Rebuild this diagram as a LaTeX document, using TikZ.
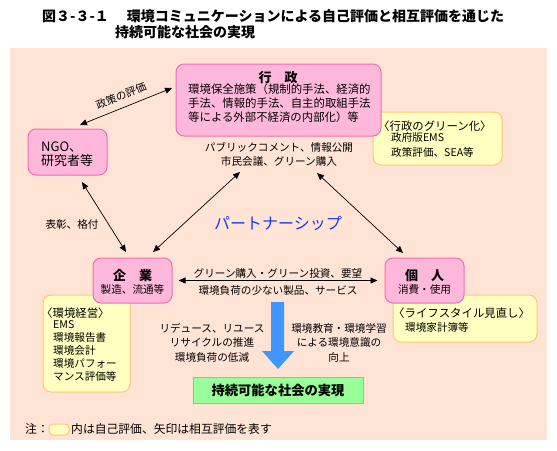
\documentclass[tikz,border=0pt]{standalone}
\usepackage{fontspec}
\setmainfont{Noto Sans CJK JP}
\usetikzlibrary{arrows.meta}
\definecolor{bgc}{RGB}{255,228,214}
\definecolor{pinkfill}{RGB}{255,184,220}
\definecolor{pinkline}{RGB}{240,110,175}
\definecolor{yelfill}{RGB}{255,255,194}
\definecolor{yelline}{RGB}{255,198,112}
\definecolor{grnfill}{RGB}{153,255,153}
\definecolor{grnline}{RGB}{105,225,85}
\definecolor{bluearr}{RGB}{64,150,255}
\definecolor{bluetxt}{RGB}{20,60,235}
\newcommand{\fs}[2]{\fontsize{#1}{#2}\selectfont}
\begin{document}
\begin{tikzpicture}[x=1pt,y=-1pt,
  pinkbox/.style={draw=pinkline,fill=pinkfill,line width=1pt,rounded corners=8pt,inner sep=0pt},
  yelbox/.style={draw=yelline,fill=yelfill,line width=1pt,rounded corners=8pt,inner sep=0pt},
  grnbox/.style={draw=grnline,fill=grnfill,line width=1pt,inner sep=0pt},
  txt/.style={inner sep=0pt,font=\fs{10.6}{14.5}},
  body/.style={inner sep=0pt,font=\fs{11.4}{14},align=left},
  head/.style={inner sep=0pt,font=\fs{13}{14}\bfseries},
  conn/.style={{Triangle[length=7pt,width=6pt]}-{Triangle[length=7pt,width=6pt]},line width=0.7pt}]
\useasboundingbox (0,0) rectangle (557,450);
\fill[bgc] (10,48) rectangle (547,440);
% title
\node[inner sep=0pt,anchor=west,font=\fs{14}{16}\bfseries] (t1) at (42,16) {図３-３-１\hspace{18pt}環境コミュニケーションによる自己評価と相互評価を通じた};
\node[inner sep=0pt,anchor=west,font=\fs{14}{16}\bfseries] (t2) at (115,32) {持続可能な社会の実現};
% yellow boxes
\node[yelbox,minimum width=129pt,minimum height=53pt] (ygov) at (437.5,138.5) {};
\node[yelbox,minimum width=87pt,minimum height=97pt] (ycorp) at (86.5,343.5) {};
\node[yelbox,minimum width=144pt,minimum height=47pt] (yind) at (465,318.5) {};
% pink boxes
\node[pinkbox,minimum width=205pt,minimum height=72pt] (gov) at (278.5,100) {};
\node[pinkbox,minimum width=79pt,minimum height=46pt] (ngo) at (67.5,152) {};
\node[pinkbox,minimum width=79pt,minimum height=45pt] (corp) at (132.5,280.5) {};
\node[pinkbox,minimum width=79pt,minimum height=45pt] (ind) at (424.5,280.5) {};
% green box
\node[grnbox,minimum width=170pt,minimum height=26pt,font=\fs{13.3}{15}\bfseries] (goal) at (278,390) {持続可能な社会の実現};
% texts in boxes
\node[head] (govh) at (278,78) {行\hspace{13pt}政};
\node[body,anchor=north west] (govb) at (188,84) {環境保全施策（規制的手法、経済的\\手法、情報的手法、自主的取組手法\\等による外部不経済の内部化）等};
\node[inner sep=0pt,anchor=west,font=\fs{13}{14.5},align=left] (ngot) at (41,154) {NGO、\\研究者等};
\node[head] (corph) at (132.5,276) {企\hspace{13pt}業};
\node[txt] (corpb) at (132.5,289.5) {製造、流通等};
\node[head] (indh) at (424.5,276) {個\hspace{13pt}人};
\node[txt] (indb) at (424.5,289.5) {消費・使用};
\node[body,anchor=west] (ygt) at (378,126) {〈行政のグリーン化〉};
\node[txt,anchor=north west,align=left] (ygb) at (391,132.5) {政府版EMS\\政策評価、SEA等};
\node[body,anchor=west] (yct) at (41,313) {〈環境経営〉};
\node[txt,anchor=north west,align=left,font=\fs{10.6}{13}] (ycb) at (53,320.5) {EMS\\環境報告書\\環境会計\\環境パフォー\\マンス評価等};
\node[body,anchor=west] (yit) at (393,313) {〈ライフスタイル見直し〉};
\node[txt,anchor=west] (yib) at (405,327) {環境家計簿等};
% labels
\node[txt,align=center] (pub) at (279,154.5) {パブリックコメント、情報公開\\市民会議、グリーン購入};
\node[txt] (hyo) at (72,224) {表彰、格付};
\node[txt,rotate=22] (sei) at (121,96) {政策の評価};
\node[inner sep=0pt,font=\fs{16}{18},text=bluetxt] (pt) at (278,223) {パートナーシップ};
\node[txt] (g1) at (278,273) {グリーン購入・グリーン投資、要望};
\node[txt] (g2) at (278,290) {環境負荷の少ない製品、サービス};
\node[txt,align=center] (red) at (212,342.5) {リデュース、リユース\\リサイクルの推進\\環境負荷の低減};
\node[txt,align=center] (edu) at (339,342.5) {環境教育・環境学習\\による環境意識の\\向上};
% big blue arrow
\fill[bluearr] (271,302) -- (284,302) -- (284,351) -- (294,351) -- (278,369) -- (262,351) -- (271,351) -- cycle;
% connectors
\coordinate (a1s) at (82,182); \coordinate (a1e) at (126,252);
\coordinate (a2s) at (240,172); \coordinate (a2e) at (153,252);
\coordinate (a3s) at (317,173); \coordinate (a3e) at (403,253);
\coordinate (a4s) at (80,125); \coordinate (a4e) at (172,88);
\draw[conn] (a1s) -- (a1e);
\draw[conn] (a2s) -- (a2e);
\draw[conn] (a3s) -- (a3e);
\draw[conn] (a4s) -- (a4e);
\draw[conn,shorten <=6pt,shorten >=7pt] (corp.east) -- (ind.west);
% note
\node[inner sep=0pt,anchor=west,font=\fs{11.8}{14}] (note1) at (25,429) {注：};
\node[yelbox,rounded corners=4pt,minimum width=20pt,minimum height=11pt] (notebox) at (59,429.5) {};
\node[inner sep=0pt,anchor=west,font=\fs{11.8}{14}] (note2) at (71,429) {内は自己評価、矢印は相互評価を表す};
\end{tikzpicture}
\end{document}
